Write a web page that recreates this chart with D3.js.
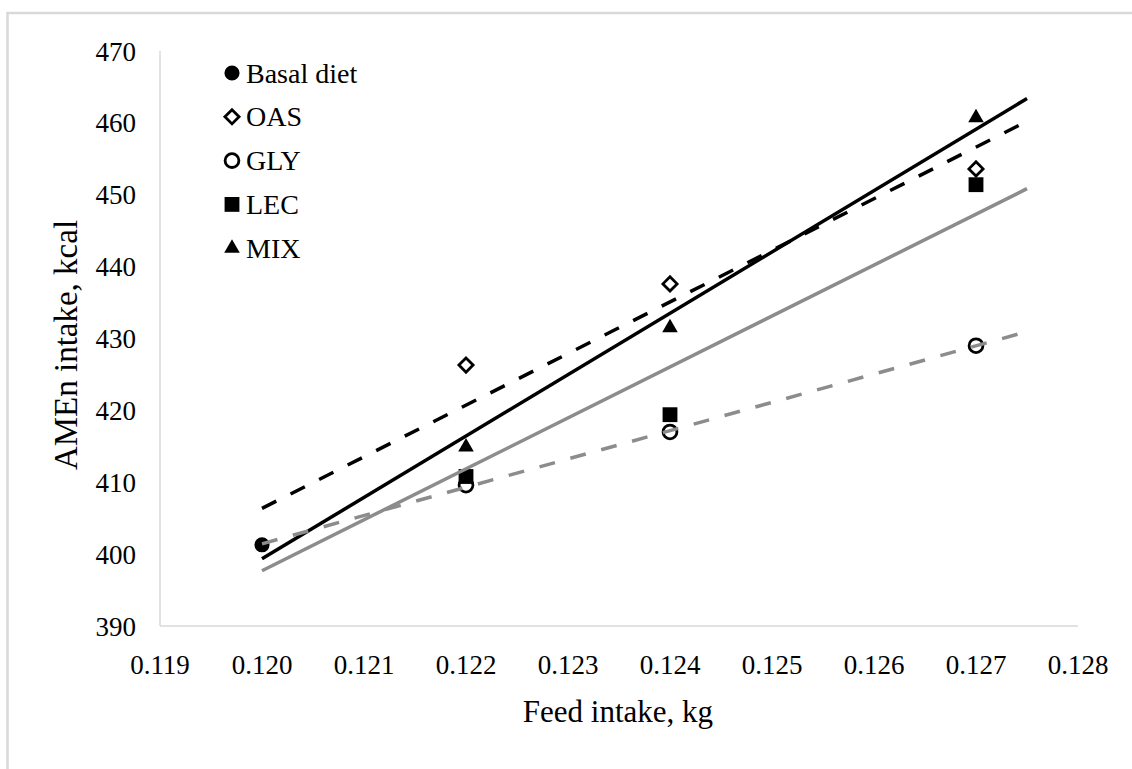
<!DOCTYPE html>
<html>
<head>
<meta charset="utf-8">
<script src="https://cdn.jsdelivr.net/npm/d3@7"></script>
<style>
  html, body { margin: 0; padding: 0; background: #fff; }
  svg text { font-family: "Liberation Serif", "Times New Roman", Tinos, "DejaVu Serif", serif; }
</style>
</head>
<body>
<svg id="chart" width="1132" height="769"></svg>
<script>
// ---- Data ----
const seriesNames = ["Basal diet", "OAS", "GLY", "LEC", "MIX"];
const basalX = [0.120];
const basalY = [401.3];
const treatX = [0.122, 0.124, 0.127];
const oasY = [426.3, 437.6, 453.6];
const glyY = [409.6, 417.0, 429.0];
const lecY = [410.8, 419.4, 451.4];
const mixY = [414.9, 431.5, 460.7];
const xTicks = [0.119, 0.120, 0.121, 0.122, 0.123, 0.124, 0.125, 0.126, 0.127, 0.128];
const yTicks = [390, 400, 410, 420, 430, 440, 450, 460, 470];
const trendRange = [0.120, 0.1275];
const xTitle = "Feed intake, kg";
const yTitle = "AMEn intake, kcal";

// ---- Layout ----
const FONT = "'Liberation Serif', 'Times New Roman', Tinos, 'DejaVu Serif', serif";
const svg = d3.select("#chart");
const x = d3.scaleLinear().domain([0.119, 0.128]).range([160, 1078]);
const y = d3.scaleLinear().domain([390, 470]).range([626, 51]);
const AX = "#d9d9d9", GREY = "#8c8c8c";

// outer frame (only top/left visible)
svg.append("rect").attr("x", 7.5).attr("y", 13).attr("width", 1200).attr("height", 900)
  .attr("fill", "none").attr("stroke", AX).attr("stroke-width", 2.5);

// axes lines
svg.append("line").attr("x1", x(0.119)).attr("x2", x(0.128)).attr("y1", y(390)).attr("y2", y(390))
  .attr("stroke", AX).attr("stroke-width", 1.5);
svg.append("line").attr("x1", x(0.119)).attr("x2", x(0.119)).attr("y1", y(390)).attr("y2", y(470))
  .attr("stroke", AX).attr("stroke-width", 1.5);

// tick labels
svg.append("g").selectAll("text").data(yTicks).join("text")
  .attr("x", 136).attr("y", d => y(d) + 9.5).attr("text-anchor", "end")
  .attr("font-family", FONT).attr("font-size", 27).attr("fill", "#000").text(d => d);
svg.append("g").selectAll("text").data(xTicks).join("text")
  .attr("x", d => x(d)).attr("y", 674).attr("text-anchor", "middle")
  .attr("font-family", FONT).attr("font-size", 27).attr("fill", "#000").text(d => d3.format(".3f")(d));

// axis titles
svg.append("text").attr("x", 618).attr("y", 722).attr("text-anchor", "middle")
  .attr("font-family", FONT).attr("font-size", 31).text(xTitle);
svg.append("text").attr("transform", "translate(77,345) rotate(-90)").attr("text-anchor", "middle")
  .attr("font-family", FONT).attr("font-size", 33).text(yTitle);

// markers
const sym = {
  "Basal diet": {type: d3.symbolCircle, size: 180, fill: "#000", stroke: "none"},
  "OAS": {type: d3.symbolDiamond2, size: 128, fill: "#fff", stroke: "#000"},
  "GLY": {type: d3.symbolCircle, size: 150, fill: "#fff", stroke: "#000"},
  "LEC": {type: d3.symbolSquare, size: 220, fill: "#000", stroke: "none"},
  "MIX": {type: d3.symbolTriangle, size: 105, fill: "#000", stroke: "none"}
};
function marker(g, name, cx, cy) {
  const s = sym[name];
  g.append("path").attr("d", d3.symbol().type(s.type).size(s.size)())
    .attr("transform", `translate(${cx},${cy})`)
    .attr("fill", s.fill).attr("stroke", s.stroke).attr("stroke-width", 2.8);
}

const pts = [
  {name: "Basal diet", xs: basalX, ys: basalY},
  {name: "OAS", xs: treatX, ys: oasY},
  {name: "GLY", xs: treatX, ys: glyY},
  {name: "LEC", xs: treatX, ys: lecY},
  {name: "MIX", xs: treatX, ys: mixY}
];
const gm = svg.append("g");
pts.forEach(p => p.xs.forEach((xv, i) => marker(gm, p.name, x(xv), y(p.ys[i]))));

// trendlines (least squares including basal point)
function fit(xs, ys) {
  const n = xs.length, mx = d3.mean(xs), my = d3.mean(ys);
  let sxy = 0, sxx = 0;
  for (let i = 0; i < n; i++) { sxy += (xs[i]-mx)*(ys[i]-my); sxx += (xs[i]-mx)**2; }
  const b = sxy / sxx; return v => my + b*(v - mx);
}
const trends = [
  {ys: oasY, color: "#000", dash: "16,16"},
  {ys: mixY, color: "#000", dash: null},
  {ys: lecY, color: GREY, dash: null},
  {ys: glyY, color: GREY, dash: "16,16"}
];
const gl = svg.append("g");
trends.forEach(t => {
  const f = fit(basalX.concat(treatX), basalY.concat(t.ys));
  const ln = gl.append("line")
    .attr("x1", x(trendRange[0])).attr("y1", y(f(trendRange[0])))
    .attr("x2", x(trendRange[1])).attr("y2", y(f(trendRange[1])))
    .attr("stroke", t.color).attr("stroke-width", 3.5);
  if (t.dash) ln.attr("stroke-dasharray", t.dash);
});

// legend
const lg = svg.append("g");
seriesNames.forEach((n, i) => {
  const cy = 73 + i * 43.8;
  marker(lg, n, 232, cy);
  lg.append("text").attr("x", 246).attr("y", cy + 9.5)
    .attr("font-family", FONT).attr("font-size", 28).text(n);
});
</script>
</body>
</html>
